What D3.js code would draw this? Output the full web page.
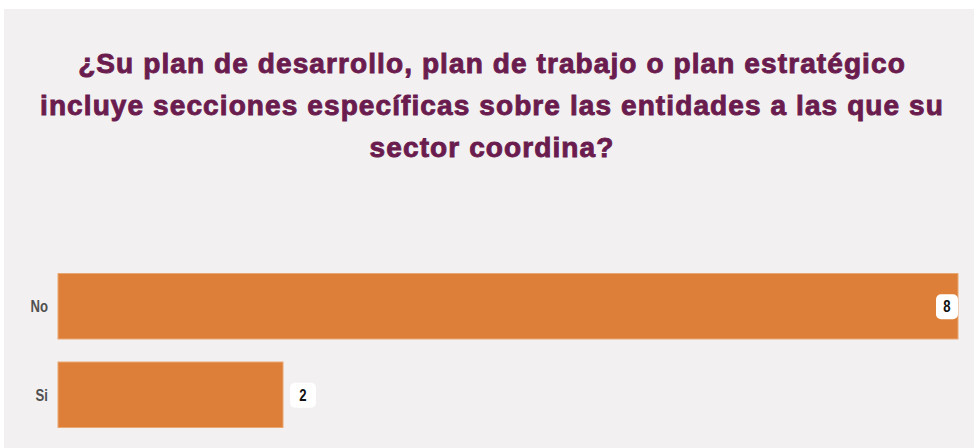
<!DOCTYPE html>
<html>
<head>
<meta charset="utf-8">
<script src="https://cdn.jsdelivr.net/npm/d3@7"></script>
<style>
  body { margin: 0; background: #fff; }
  svg { display: block; }
</style>
</head>
<body>
<script>
// data
var categories = ["No", "Si"];
var values = [8, 2];
var titleLines = [
  "¿Su plan de desarrollo, plan de trabajo o plan estratégico",
  "incluye secciones específicas sobre las entidades a las que su",
  "sector coordina?"
];

var width = 974, height = 448;
var colors = { panel: "#f3f0f1", bar: "#dd7f38", title: "#6a1c4e", label: "#505050" };
var condensed = 0.82;	// horizontal squeeze for the narrow labels

var svg = d3.select("body").append("svg")
  .attr("width", width)
  .attr("height", height);

// panel background
svg.append("rect")
  .attr("x", 4).attr("y", 9)
  .attr("width", width - 4).attr("height", height - 9)
  .attr("fill", colors.panel);

// title
svg.append("g").selectAll("text")
  .data(titleLines)
  .enter().append("text")
  .attr("x", 492)
  .attr("y", function(d, i) { return 73 + i * 42; })
  .attr("text-anchor", "middle")
  .attr("font-family", "'Liberation Sans', Arial, sans-serif")
  .attr("font-weight", "bold")
  .attr("font-size", 28)
  .attr("letter-spacing", "1.1px")
  .attr("fill", colors.title)
  .attr("stroke", colors.title)
  .attr("stroke-width", 0.9)
  .text(function(d) { return d; });

// scales
var x = d3.scaleLinear().domain([0, 8]).range([58, 958]);
var y = d3.scaleBand().domain(categories).range([262, 439]).paddingInner(0.26).paddingOuter(0.13);

// category labels
svg.append("g").selectAll("text")
  .data(categories)
  .enter().append("text")
  .attr("transform", function(d) {
    return "translate(48," + (y(d) + y.bandwidth() / 2) + ") scale(" + condensed + ",1)";
  })
  .attr("dy", "0.36em")
  .attr("text-anchor", "end")
  .attr("font-family", "'Liberation Sans', sans-serif")
  .attr("font-weight", "bold")
  .attr("font-size", 16)
  .attr("fill", colors.label)
  .text(function(d) { return d; });

// bars
svg.append("g").selectAll("rect")
  .data(values)
  .enter().append("rect")
  .attr("x", x(0))
  .attr("y", function(d, i) { return y(categories[i]); })
  .attr("width", function(d) { return x(d) - x(0); })
  .attr("height", y.bandwidth())
  .attr("fill", colors.bar)
  .attr("stroke", "#e9a774")
  .attr("stroke-width", 1);

// value labels
var labels = svg.append("g").selectAll("g")
  .data(values)
  .enter().append("g")
  .attr("transform", function(d, i) {
    var inside = d === d3.max(values);
    var lx = inside ? x(d) - 11 : x(d) + 18;
    return "translate(" + lx + "," + (y(categories[i]) + y.bandwidth() / 2) + ")";
  });

labels.append("rect")
  .attr("x", -11).attr("y", -12)
  .attr("width", function(d) { return d === d3.max(values) ? 22 : 26; })
  .attr("height", 25)
  .attr("rx", 5)
  .attr("fill", "#fff");

labels.append("text")
  .attr("transform", function(d) {
    return "translate(" + (d === d3.max(values) ? 0 : 2) + ",0) scale(" + condensed + ",1)";
  })
  .attr("dy", "0.38em")
  .attr("text-anchor", "middle")
  .attr("font-family", "'Liberation Sans', sans-serif")
  .attr("font-weight", "bold")
  .attr("font-size", 16)
  .attr("fill", "#111")
  .text(function(d) { return d; });
</script>
</body>
</html>
